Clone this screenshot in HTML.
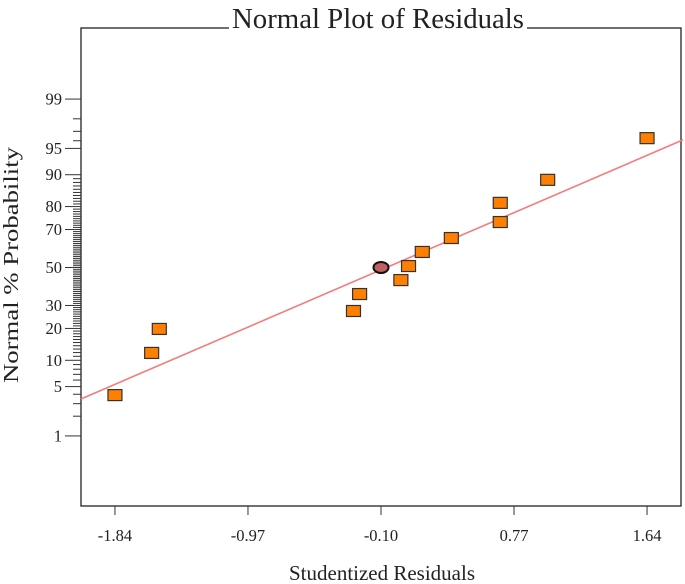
<!DOCTYPE html>
<html><head><meta charset="utf-8"><style>
html,body{margin:0;padding:0;background:#fff;}
svg{display:block;font-family:"Liberation Serif",serif;}
</style></head><body>
<svg id="chart" width="685" height="584" viewBox="0 0 685 584" xmlns="http://www.w3.org/2000/svg"></svg>
<script>
const xTicks = [-1.84, -0.97, -0.10, 0.77, 1.64];
const xTickLabels = ["-1.84", "-0.97", "-0.10", "0.77", "1.64"];
const yMajor = [1, 5, 10, 20, 30, 50, 70, 80, 90, 95, 99];
const residuals = [-1.84, -1.60, -1.55, -0.28, -0.24, 0.03, 0.08, 0.17, 0.36, 0.68, 0.68, 0.99, 1.64];
const probs = [3.9, 11.9, 19.8, 27.4, 35.7, 43.1, 50.8, 58.5, 65.8, 73.5, 81.4, 88.7, 96.3];
const highlightX = [-0.10];
const highlightP = [50];
const lineX = [-2.062, 1.875];
const lineP = [3.47, 96.1];

const NS = "http://www.w3.org/2000/svg";
const svg = document.getElementById('chart');
const L = 81, R = 681, T = 28, B = 506;
function sx(v){ return 381 + (v + 0.10) * 152.9; }
function erfinv(x){ const a=0.147; const ln=Math.log(1-x*x); const t=2/(Math.PI*a)+ln/2; return Math.sign(x)*Math.sqrt(Math.sqrt(t*t-ln/a)-t); }
function erf(x){ const t=1/(1+0.3275911*Math.abs(x)); const y=1-(((((1.061405429*t-1.453152027)*t)+1.421413741)*t-0.284496736)*t+0.254829592)*t*Math.exp(-x*x); return x>=0?y:-y; }
function probit(p){ let z = Math.SQRT2*erfinv(2*p-1);
  for(let i=0;i<3;i++){ const cdf=0.5*(1+erf(z/Math.SQRT2)); const pdf=Math.exp(-z*z/2)/Math.sqrt(2*Math.PI); z-= (cdf-p)/pdf; } return z; }
function sy(p){ return 267.5 - probit(p/100) * 72.4; }
function mk(tag, attrs, parent){ const e=document.createElementNS(NS,tag); for(const k in attrs) e.setAttribute(k, attrs[k]); (parent||svg).appendChild(e); return e; }

const frame = mk('rect',{x:L,y:T,width:R-L,height:B-T,fill:'none',stroke:'#222','stroke-width':1.3});



const ln = mk('line',{x1:sx(lineX[0]),y1:sy(lineP[0]),x2:sx(lineX[1]),y2:sy(lineP[1]),stroke:'#f47c7c','stroke-width':1.6});



const minor = [2,3,4,6,7,8,9];
for(let p=11;p<90;p++) if(yMajor.indexOf(p)<0) minor.push(p);
minor.push(96,97,98);
minor.forEach(p=>{
  const y=sy(p);
  const t=mk('line',{x1:73,y1:y,x2:L,y2:y,stroke:'#333','stroke-width':1});
  
  
});
yMajor.forEach(p=>{
  const y=sy(p);
  const t=mk('line',{x1:65,y1:y,x2:L,y2:y,stroke:'#333','stroke-width':1});
  
  
  const tx=mk('text',{x:62,y:y+5.5,'text-anchor':'end','font-size':16.5,fill:'#222'});
  tx.textContent=String(p);
  
  
});
xTicks.forEach((v,i)=>{
  const x=sx(v);
  const t=mk('line',{x1:x,y1:B,x2:x,y2:B+9,stroke:'#333','stroke-width':1});
  
  
  const tx=mk('text',{x:x,y:541,'text-anchor':'middle','font-size':16.5,fill:'#222'});
  tx.textContent=xTickLabels[i];
  
  
});

residuals.forEach((v,i)=>{
  const r=mk('rect',{x:sx(v)-7,y:sy(probs[i])-5.5,width:14,height:11,fill:'#ff8000',stroke:'#333','stroke-width':1.2});
  
  
});
highlightX.forEach((v,i)=>{
  const e=mk('ellipse',{cx:sx(v),cy:sy(highlightP[i]),rx:7.5,ry:5.5,fill:'#c06060',stroke:'#111','stroke-width':2});
  
  
});

const bg=mk('rect',{x:229,y:20,width:298,height:14,fill:'#fff'});


const title=mk('text',{x:378,y:28,'text-anchor':'middle','font-size':28,fill:'#222',textLength:292,lengthAdjust:'spacingAndGlyphs'});
title.textContent='Normal Plot of Residuals';



const xt=mk('text',{x:382,y:580,'text-anchor':'middle','font-size':21,fill:'#222',textLength:186,lengthAdjust:'spacingAndGlyphs'});
xt.textContent='Studentized Residuals';



const yt=mk('text',{x:0,y:0,'text-anchor':'middle','font-size':21,fill:'#222',transform:'translate(18,265) rotate(-90)',textLength:236,lengthAdjust:'spacingAndGlyphs'});
yt.textContent='Normal % Probability';


</script>
</body></html>
